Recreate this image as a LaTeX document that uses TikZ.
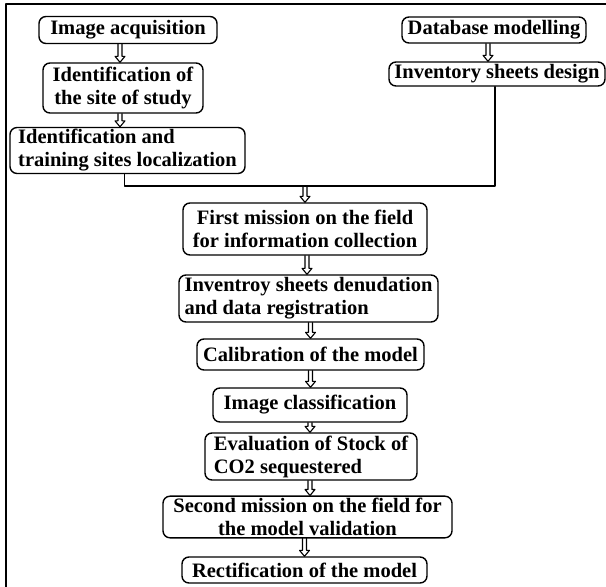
\documentclass[tikz,border=0pt]{standalone}
\usepackage{fontspec}
\setmainfont{Liberation Serif}
\usetikzlibrary{calc}

\begin{document}
\begin{tikzpicture}[line cap=round,line join=round,x=1pt,y=-1pt,
  box/.style={draw,line width=1.4pt,rounded corners=7pt,inner sep=2pt,align=center,font=\fontsize{20.5}{23}\selectfont\bfseries},
  hollow/.style={line width=1.1pt,to path={let \p1=(\tikztostart),\p2=(\tikztotarget) in (\x1-2pt,\y1) -- (\x1-2pt,\y2+6pt) -- (\x1-5pt,\y2+6pt) -- (\x1,\y2) -- (\x1+5pt,\y2+6pt) -- (\x1+2pt,\y2+6pt) -- (\x1+2pt,\y1)}}]
\useasboundingbox (0,0) rectangle (606,587);
\draw[line width=1.2pt] (6,587) -- (6,4) -- (606,4);
% left branch
\node[box,minimum width=178pt,minimum height=27pt] (acq) at (128,30) {Image acquisition};
\node[box,minimum width=160pt,minimum height=50pt] (site) at (123,88) {Identification of\\the site of study};
\node[box,align=left,minimum width=235pt,minimum height=45pt] (train) at (127.5,150.5) {Identification and\\training sites localization};
% right branch
\node[box,minimum width=184pt,minimum height=26pt] (db) at (494,30) {Database modelling};
\node[box,minimum width=216pt,minimum height=24pt] (sheet) at (497,74) {Inventory sheets design};
% main column
\node[box,minimum width=244pt,minimum height=52pt] (first) at (305,229) {First mission on the field\\for information collection};
\node[box,align=left,minimum width=259pt,minimum height=47pt] (denud) at (308.5,298.5) {Inventroy sheets denudation\\and data registration};
\node[box,minimum width=227pt,minimum height=31pt] (calib) at (310.5,354.5) {Calibration of the model};
\node[box,minimum width=194pt,minimum height=34pt] (classif) at (310,405) {Image classification};
\node[box,align=left,minimum width=212pt,minimum height=47pt] (stock) at (311,456.5) {Evaluation of Stock of\\CO2 sequestered};
\node[box,minimum width=289pt,minimum height=40pt] (second) at (307.5,517) {Second mission on the field for\\the model validation};
\node[box,minimum width=245pt,minimum height=26pt] (rect) at (304.5,570) {Rectification of the model};
\coordinate (join) at (305,186);
\draw[hollow] ([xshift=-8pt]acq.south) to ([xshift=-8pt]site.north);
\draw[hollow] ([xshift=-3pt]site.south) to ([xshift=-3pt]train.north);
\draw[hollow] ([xshift=-6pt]db.south) to ([xshift=-6pt]sheet.north);
\draw[line width=1.4pt] ([xshift=-3pt]train.south) |- (join) -| ([xshift=-2pt]sheet.south);
\draw[hollow] (join) to (first.north);
\draw[hollow] ([xshift=2pt]first.south) to ([xshift=2pt]denud.north);
\draw[hollow] (calib.north |- denud.south) to (calib.north);
\draw[hollow] (calib.south) to (classif.north);
\draw[hollow] (classif.south) to (classif.south |- stock.north);
\draw[hollow] (classif.south |- stock.south) to (classif.south |- second.north);
\draw[hollow] ([xshift=-3pt]second.south) to ([xshift=2pt]rect.north);
\end{tikzpicture}
\end{document}
